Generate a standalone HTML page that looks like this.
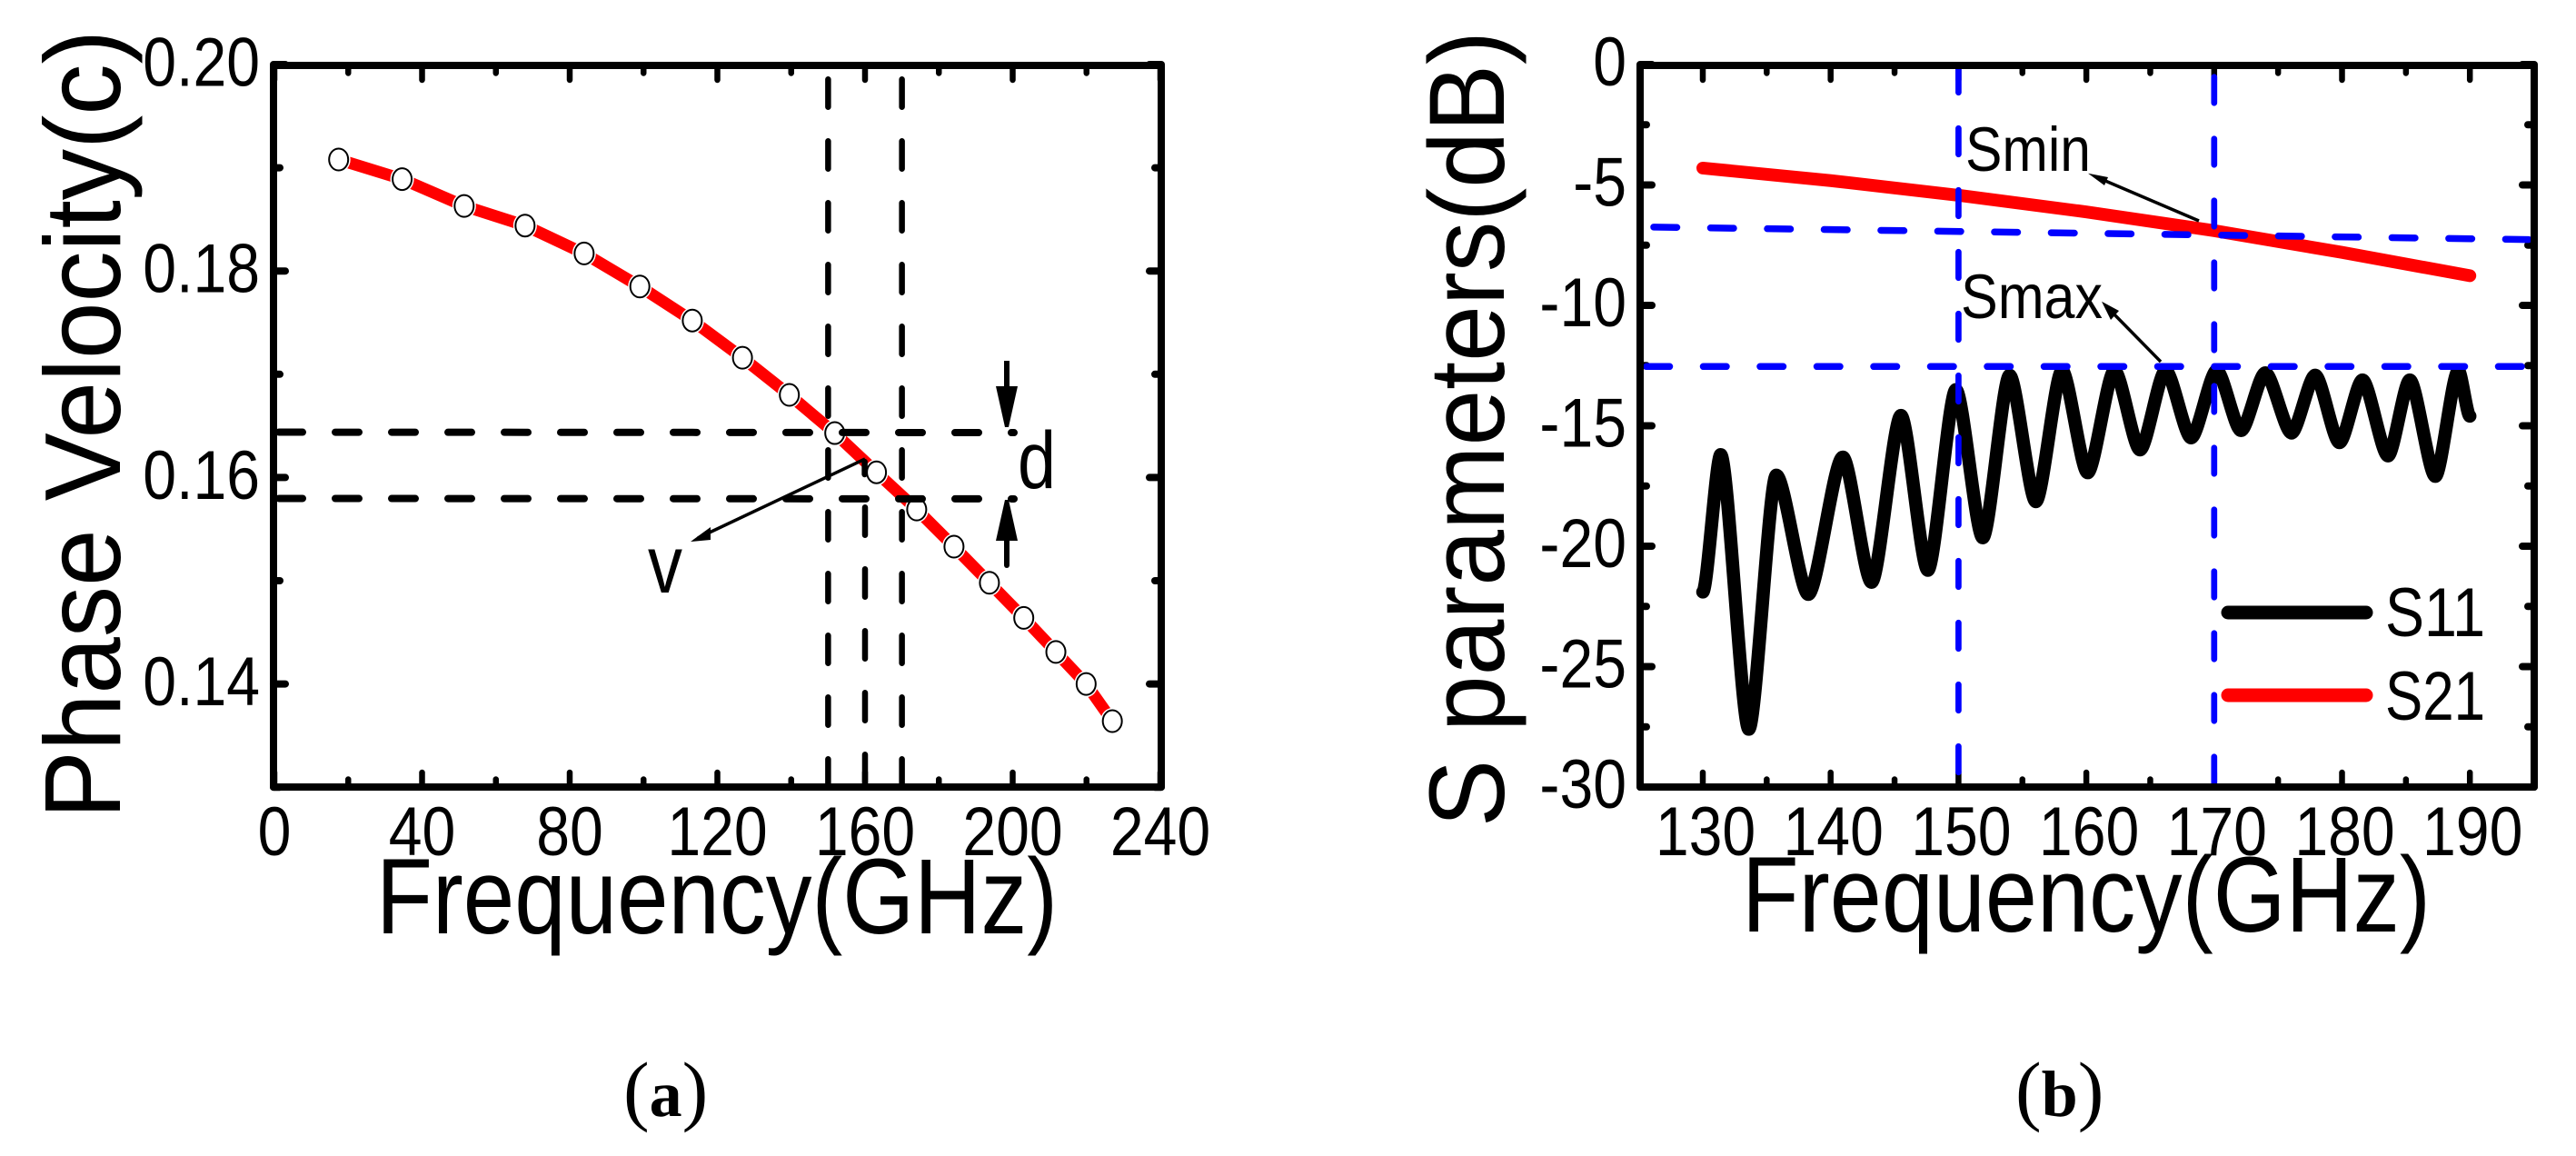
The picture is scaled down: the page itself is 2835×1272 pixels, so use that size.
<!DOCTYPE html>
<html lang="en">
<head>
<meta charset="utf-8">
<title>Phase velocity and S parameters</title>
<style>
html,body{margin:0;padding:0;background:#fff;}
svg{display:block;}
text{font-family:"Liberation Sans",Arial,sans-serif;fill:#000;}
.cap{font-family:"Liberation Serif",serif;}
</style>
</head>
<body>
<svg id="fig" xmlns="http://www.w3.org/2000/svg" width="2835" height="1272" viewBox="0 0 2835 1272">
  <rect x="0" y="0" width="2835" height="1272" fill="#fff"/>
  <g id="panelA"></g>
  <g id="panelB"></g>

  <rect x="301" y="72" width="977" height="794" fill="none" stroke="#000" stroke-width="8" stroke-linejoin="round"/>
  <rect x="1805" y="72" width="984" height="794" fill="none" stroke="#000" stroke-width="8" stroke-linejoin="round"/>

  <text transform="translate(132,901) rotate(-90)" font-size="119" textLength="868" lengthAdjust="spacingAndGlyphs">Phase Velocity(c)</text>
  <text x="414" y="1027" font-size="118" textLength="750" lengthAdjust="spacingAndGlyphs">Frequency(GHz)</text>
  <text transform="translate(1655,910) rotate(-90)" font-size="118" textLength="876" lengthAdjust="spacingAndGlyphs">S parameters(dB)</text>
  <text x="1917" y="1025" font-size="118" textLength="758" lengthAdjust="spacingAndGlyphs">Frequency(GHz)</text>

  <text x="713" y="652" font-size="90" textLength="38" lengthAdjust="spacingAndGlyphs">v</text>
  <text x="1120" y="537" font-size="89" textLength="42" lengthAdjust="spacingAndGlyphs">d</text>
  <g>
    <line x1="952" y1="505" x2="768" y2="592" stroke="#000" stroke-width="3.5"/>
    <polygon points="760,596 782,580 782,594" fill="#000"/>
  </g>
  <line x1="951.6" y1="508" x2="951.6" y2="522" stroke="#000" stroke-width="6.5" stroke-linecap="round"/>
  <g>
    <line x1="1108" y1="397" x2="1108" y2="430" stroke="#000" stroke-width="6"/>
    <polygon points="1096,425 1120,425 1110,470 1106,470" fill="#000"/>
  </g>
  <g>
    <line x1="1108" y1="590" x2="1108" y2="622" stroke="#000" stroke-width="6" stroke-linecap="round"/>
    <polygon points="1096,595 1120,595 1110,550 1106,550" fill="#000"/>
  </g>

  <text x="2163" y="188" font-size="69" textLength="138" lengthAdjust="spacingAndGlyphs">Smin</text>
  <text x="2158" y="350" font-size="69" textLength="156" lengthAdjust="spacingAndGlyphs">Smax</text>
  <g>
    <line x1="2420" y1="243" x2="2310" y2="196" stroke="#000" stroke-width="3.5"/>
    <polygon points="2298,190.7 2320,195 2316,204" fill="#000"/>
  </g>
  <g>
    <line x1="2378" y1="398" x2="2322" y2="341" stroke="#000" stroke-width="3.5"/>
    <polygon points="2313,331.7 2332,342 2323,352" fill="#000"/>
  </g>

  <g>
    <line x1="2452" y1="674" x2="2604" y2="674" stroke="#000" stroke-width="15" stroke-linecap="round"/>
    <text x="2625" y="700" font-size="76" textLength="110" lengthAdjust="spacingAndGlyphs">S11</text>
    <line x1="2452" y1="765" x2="2604" y2="765" stroke="#f00" stroke-width="15" stroke-linecap="round"/>
    <text x="2625" y="792" font-size="76" textLength="110" lengthAdjust="spacingAndGlyphs">S21</text>
  </g>

  <text class="cap" x="686" y="1228"><tspan font-size="86">(</tspan><tspan font-size="72" font-weight="bold">a</tspan><tspan font-size="86">)</tspan></text>
  <text class="cap" x="2218" y="1228"><tspan font-size="86">(</tspan><tspan font-size="72" font-weight="bold">b</tspan><tspan font-size="86">)</tspan></text>
</svg>
<script>
// Panel (a) data
const velFreq = [17.4,34.6,51.4,67.9,83.9,99,113.2,126.8,139.5,151.8,163.1,174,184.1,193.7,203,211.7,219.9,227];
const velValue = [0.1908,0.1889,0.1863,0.1844,0.1817,0.1785,0.1752,0.1716,0.1680,0.1643,0.1605,0.1569,0.1533,0.1498,0.1464,0.1431,0.1400,0.1364];
const aXMajor = [0,40,80,120,160,200,240];
const aXMinor = [20,60,100,140,180,220];
const aYMajor = [0.20,0.18,0.16,0.14];
const aYMinor = [0.19,0.17,0.15,0.13];
const aYLabels = ['0.20','0.18','0.16','0.14'];
const aRefFreq = [150,170];
const aRefFreqLower = [160];
const aRefVel = [0.16439,0.15797];

// Panel (b) data
const s11Freq = [130,131.4,133.6,135.75,138.25,140.95,143.2,145.5,147.6,149.8,151.9,154,156.05,158.1,160.1,162.2,164.2,166.2,168.2,170.2,172.1,174,176.05,177.9,179.8,181.6,183.6,185.3,187.3,189.1,190];
const s11Value = [-21.9,-16.2,-27.6,-17.05,-22,-16.3,-21.5,-14.57,-21,-13.5,-19.65,-12.9,-18.15,-12.7,-16.95,-12.7,-16,-12.7,-15.5,-12.7,-15.2,-12.8,-15.3,-12.9,-15.7,-13.1,-16.25,-13.1,-17.1,-12.7,-14.6];
const s21Freq = [130,140,150,160,170,180,190];
const s21Value = [-4.3,-4.82,-5.43,-6.12,-6.9,-7.8,-8.77];
const bXMajor = [130,140,150,160,170,180,190];
const bXMinor = [135,145,155,165,175,185];
const bYMajor = [0,-5,-10,-15,-20,-25,-30];
const bYMinor = [-2.5,-7.5,-12.5,-17.5,-22.5,-27.5];
const bRefFreq = [150,170];
const bSminLine = [-6.75,-7.27];
const bSmaxLine = [-12.54,-12.54];

// Axis functions
const xA = f => 302 + f * 4.0625;
const yA = v => 71 + (0.2 - v) * 11360;
const xB = f => 1874 + (f - 130) * 14.07;
const yB = v => 71 - v * 26.5;

const NS = 'http://www.w3.org/2000/svg';
const panelA = document.getElementById('panelA');
const panelB = document.getElementById('panelB');

function mk(tag, parent, attrs) {
  const el = document.createElementNS(NS, tag);
  for (const k in attrs) el.setAttribute(k, attrs[k]);
  parent.appendChild(el);
  return el;
}
function seg(parent, x1, y1, x2, y2, color, w, dash) {
  const attrs = {x1, y1, x2, y2, stroke: color, 'stroke-width': w, 'stroke-linecap': 'round'};
  if (dash) attrs['stroke-dasharray'] = dash;
  return mk('line', parent, attrs);
}
function label(parent, str, x, y, anchor) {
  const el = mk('text', parent, {x, y, 'font-size': 76, 'text-anchor': anchor});
  el.textContent = str;
  const w = el.getComputedTextLength();
  el.setAttribute('textLength', w * 0.87);
  el.setAttribute('lengthAdjust', 'spacingAndGlyphs');
  return el;
}

function ticksX(parent, vals, sx, top, bottom, len) {
  vals.forEach(v => {
    const a = seg(parent, sx(v), bottom, sx(v), bottom - len, '#000', 6.5);
    
    
    const b = seg(parent, sx(v), top, sx(v), top + len, '#000', 6.5);
    
    
  });
}
function ticksY(parent, vals, sy, left, right, len) {
  vals.forEach(v => {
    const a = seg(parent, left, sy(v), left + len, sy(v), '#000', 8);
    
    
    const b = seg(parent, right, sy(v), right - len, sy(v), '#000', 8);
    
    
  });
}

// ---- Panel (a) ----
ticksX(panelA, aXMajor, xA, 72, 866, 16);
ticksX(panelA, aXMinor, xA, 72, 866, 8.5);
ticksY(panelA, aYMajor, yA, 301, 1278, 13);
ticksY(panelA, aYMinor, yA, 301, 1278, 7);

aXMajor.forEach(v => {
  const t = label(panelA, String(v), xA(v), 941, 'middle');
  
  
});
aYMajor.forEach((v, i) => {
  const t = label(panelA, aYLabels[i], 286, yA(v) + 23.5, 'end');
  
  
});

const velPts = velFreq.map((f, i) => xA(f) + ',' + yA(velValue[i])).join(' ');
const velLine = mk('polyline', panelA, {points: velPts, fill: 'none', stroke: '#f00', 'stroke-width': 13, 'stroke-linejoin': 'round', 'stroke-linecap': 'round'});



velFreq.forEach((f, i) => {
  const halo = mk('ellipse', panelA, {cx: xA(f), cy: yA(velValue[i]), rx: 13, ry: 14.5, fill: '#fff'});
  
  
  const dot = mk('ellipse', panelA, {cx: xA(f), cy: yA(velValue[i]), rx: 10.5, ry: 12, fill: '#fff', stroke: '#000', 'stroke-width': 2});
  
  
});

aRefFreq.forEach(f => {
  const l = seg(panelA, xA(f), 87.25, xA(f), 866, '#000', 6.5, '30.5 37.5');
  
  
});
aRefFreqLower.forEach(f => {
  const l = seg(panelA, xA(f), 558.25, xA(f), 866, '#000', 6.5, '30.5 37.5');
  
  
});
aRefVel.forEach(v => {
  const l = seg(panelA, 307, yA(v), 1116, yA(v) + 0.5, '#000', 8, '26 36');
  
  
});

// ---- Panel (b) ----
ticksX(panelB, bXMajor, xB, 72, 866, 16);
ticksX(panelB, bXMinor, xB, 72, 866, 8.5);
ticksY(panelB, bYMajor, yB, 1805, 2789, 13);
ticksY(panelB, bYMinor, yB, 1805, 2789, 7);

bXMajor.forEach(v => {
  const t = label(panelB, String(v), xB(v) + 3, 941, 'middle');
  
  
});
bYMajor.forEach(v => {
  const t = label(panelB, String(v), 1790, yB(v) + 23, 'end');
  
  
});

let s11Path = 'M' + xB(s11Freq[0]) + ' ' + yB(s11Value[0]);
for (let i = 1; i < s11Freq.length; i++) {
  const x0 = xB(s11Freq[i - 1]), y0 = yB(s11Value[i - 1]);
  const x1 = xB(s11Freq[i]), y1 = yB(s11Value[i]);
  const dx = (x1 - x0) * 0.26;
  s11Path += ' C' + (x0 + dx) + ' ' + y0 + ' ' + (x1 - dx) + ' ' + y1 + ' ' + x1 + ' ' + y1;
}
const s11Line = mk('path', panelB, {d: s11Path, fill: 'none', stroke: '#000', 'stroke-width': 14.5, 'stroke-linejoin': 'round', 'stroke-linecap': 'round'});



const s21Pts = s21Freq.map((f, i) => xB(f) + ',' + yB(s21Value[i])).join(' ');
const s21Line = mk('polyline', panelB, {points: s21Pts, fill: 'none', stroke: '#f00', 'stroke-width': 14, 'stroke-linejoin': 'round', 'stroke-linecap': 'round'});



const bStart = {150: 70, 170: 81.5};
bRefFreq.forEach(f => {
  const l = seg(panelB, xB(f), bStart[f] + 3.25, xB(f), 866, '#00f', 6.7, '28.5 39.5');
  
  
});
const sminLine = seg(panelB, 1820, yB(bSminLine[0]), 2786, yB(bSminLine[1]), '#00f', 7.5, '25.5 37');


const smaxLine = seg(panelB, 1812, yB(bSmaxLine[0]), 2786, yB(bSmaxLine[1]), '#00f', 7.5, '25.5 37');


</script>
</body>
</html>
